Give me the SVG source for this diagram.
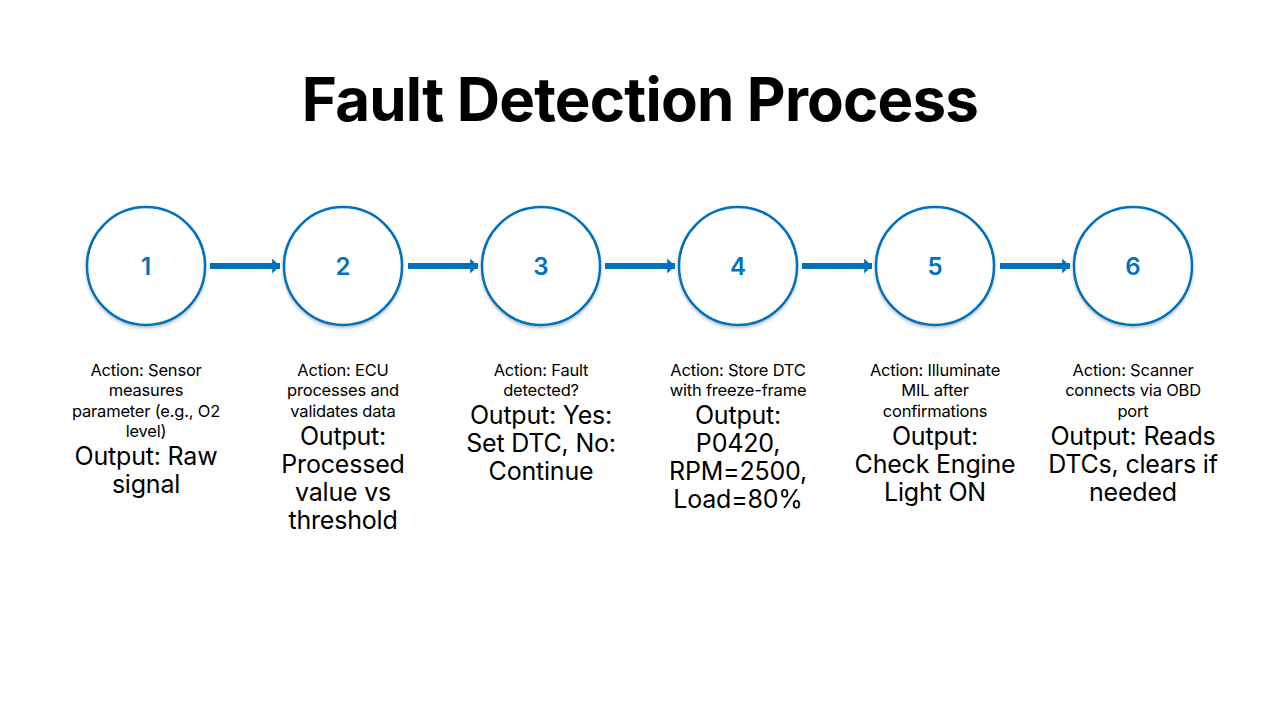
<svg xmlns="http://www.w3.org/2000/svg" width="1280" height="720" viewBox="0 0 1280 720">
<defs>
<filter id="sh" x="-20%" y="-20%" width="140%" height="140%">
<feDropShadow dx="0" dy="2" stdDeviation="1.5" flood-color="#000" flood-opacity="0.25"/>
</filter>
<marker id="ah" markerWidth="4" markerHeight="4" refX="1.3" refY="2" orient="auto" markerUnits="strokeWidth">
<path d="M0,0.75 L1.3,2 L0,3.25 Z" fill="#0070C0"/>
</marker>
<style>
.c{fill:#fff;stroke:#0070C0;stroke-width:2.5}
.n{font-family:Inter,"Liberation Sans",sans-serif;font-size:24px;font-weight:600;fill:#0070C0;text-anchor:middle}
.a{font-family:Inter,"Liberation Sans",sans-serif;font-size:16.5px;fill:#000;text-anchor:middle;letter-spacing:-0.2px}
.o{font-family:Inter,"Liberation Sans",sans-serif;font-size:25px;fill:#000;text-anchor:middle;letter-spacing:-0.2px}
.t{font-family:Inter,"Liberation Sans",sans-serif;font-size:60px;font-weight:700;fill:#000;text-anchor:middle;letter-spacing:-0.8px}
.l{stroke:#0070C0;stroke-width:6;fill:none}
</style>
</defs>
<rect width="1280" height="720" fill="#fff"/>
<text class="t" x="640" y="121">Fault Detection Process</text>
<g id="connectors">
<line class="l" x1="210" y1="266" x2="280" y2="266" marker-end="url(#ah)"/>
<line class="l" x1="408" y1="266" x2="478" y2="266" marker-end="url(#ah)"/>
<line class="l" x1="605" y1="266" x2="675" y2="266" marker-end="url(#ah)"/>
<line class="l" x1="802" y1="266" x2="872" y2="266" marker-end="url(#ah)"/>
<line class="l" x1="1000" y1="266" x2="1070" y2="266" marker-end="url(#ah)"/>
</g>
<g id="n1">
<circle class="c" cx="146" cy="266" r="59" filter="url(#sh)"/>
<text class="n" x="146" y="275">1</text>
<text class="a" x="146" y="376">Action: Sensor</text>
<text class="a" x="146" y="396">measures</text>
<text class="a" x="146" y="417">parameter (e.g., O2</text>
<text class="a" x="146" y="437">level)</text>
<text class="o" x="146" y="465">Output: Raw</text>
<text class="o" x="146" y="493">signal</text>
</g>
<g id="n2">
<circle class="c" cx="343" cy="266" r="59" filter="url(#sh)"/>
<text class="n" x="343" y="275">2</text>
<text class="a" x="343" y="376">Action: ECU</text>
<text class="a" x="343" y="396">processes and</text>
<text class="a" x="343" y="417">validates data</text>
<text class="o" x="343" y="445">Output:</text>
<text class="o" x="343" y="473">Processed</text>
<text class="o" x="343" y="501">value vs</text>
<text class="o" x="343" y="529">threshold</text>
</g>
<g id="n3">
<circle class="c" cx="541" cy="266" r="59" filter="url(#sh)"/>
<text class="n" x="541" y="275">3</text>
<text class="a" x="541" y="376">Action: Fault</text>
<text class="a" x="541" y="396">detected?</text>
<text class="o" x="541" y="424">Output: Yes:</text>
<text class="o" x="541" y="452">Set DTC, No:</text>
<text class="o" x="541" y="480">Continue</text>
</g>
<g id="n4">
<circle class="c" cx="738" cy="266" r="59" filter="url(#sh)"/>
<text class="n" x="738" y="275">4</text>
<text class="a" x="738" y="376">Action: Store DTC</text>
<text class="a" x="738" y="396">with freeze-frame</text>
<text class="o" x="738" y="424">Output:</text>
<text class="o" x="738" y="452">P0420,</text>
<text class="o" x="738" y="480">RPM=2500,</text>
<text class="o" x="738" y="508">Load=80%</text>
</g>
<g id="n5">
<circle class="c" cx="935" cy="266" r="59" filter="url(#sh)"/>
<text class="n" x="935" y="275">5</text>
<text class="a" x="935" y="376">Action: Illuminate</text>
<text class="a" x="935" y="396">MIL after</text>
<text class="a" x="935" y="417">confirmations</text>
<text class="o" x="935" y="445">Output:</text>
<text class="o" x="935" y="473">Check Engine</text>
<text class="o" x="935" y="501">Light ON</text>
</g>
<g id="n6">
<circle class="c" cx="1133" cy="266" r="59" filter="url(#sh)"/>
<text class="n" x="1133" y="275">6</text>
<text class="a" x="1133" y="376">Action: Scanner</text>
<text class="a" x="1133" y="396">connects via OBD</text>
<text class="a" x="1133" y="417">port</text>
<text class="o" x="1133" y="445">Output: Reads</text>
<text class="o" x="1133" y="473">DTCs, clears if</text>
<text class="o" x="1133" y="501">needed</text>
</g>
</svg>
